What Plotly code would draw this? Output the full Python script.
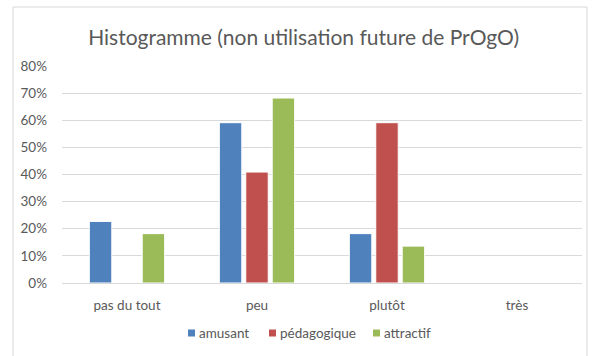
import plotly.graph_objects as go

# Response categories and share of answers per criterion
categories = ["pas du tout", "peu", "plutôt", "très"]
amusant = [0.227, 0.591, 0.182, 0.0]
pedagogique = [0.0, 0.409, 0.591, 0.0]
attractif = [0.182, 0.682, 0.136, 0.0]

series_names = ["amusant", "pédagogique", "attractif"]
series_values = [amusant, pedagogique, attractif]
series_colors = ["#4F81BD", "#C0504D", "#9BBB59"]

y_ticks = [0, 0.1, 0.2, 0.3, 0.4, 0.5, 0.6, 0.7, 0.8]

FONT = "Lato, Carlito, Calibri, sans-serif"
GREY = "#595959"
W, H = 593, 356
ML, MR, MT, MB = 62, 11, 66, 73
PW, PH = W - ML - MR, H - MT - MB


def px_x(px):
    return (px - ML) / PW


def px_y(py):
    return (H - MB - py) / PH


fig = go.Figure()
for name, vals, color in zip(series_names, series_values, series_colors):
    fig.add_trace(go.Bar(
        x=categories, y=vals, name=name,
        marker=dict(color=color, line=dict(color="white", width=1)),
        showlegend=False,
    ))

# Legend row below the axis: small square swatch followed by its label
legend_left = [188, 269, 373]   # swatch left edge in px
legend_y = 333
swatch = 7
shapes = [dict(
    type="rect", xref="paper", yref="paper",
    x0=px_x(13), x1=px_x(587), y0=px_y(H + 5), y1=px_y(7),
    line=dict(color="#D9D9D9", width=1), layer="below",
)]
annotations = []
for left, name, color in zip(legend_left, series_names, series_colors):
    shapes.append(dict(
        type="rect", xref="paper", yref="paper",
        x0=px_x(left), x1=px_x(left + swatch),
        y0=px_y(legend_y + swatch / 2), y1=px_y(legend_y - swatch / 2),
        fillcolor=color, line=dict(width=0),
    ))
    annotations.append(dict(
        text=name, xref="paper", yref="paper",
        x=px_x(left + swatch + 2), y=px_y(legend_y),
        xanchor="left", yanchor="middle", showarrow=False,
        font=dict(family=FONT, size=13.5, color=GREY),
    ))

fig.update_layout(
    width=W, height=H,
    margin=dict(l=ML, r=MR, t=MT, b=MB),
    paper_bgcolor="white", plot_bgcolor="white",
    barmode="group", bargap=0.39, bargroupgap=0.15,
    font=dict(family=FONT, color=GREY, size=13.5),
    showlegend=False,
    title=dict(
        text="Histogramme (non utilisation future de PrOgO)",
        x=0.512, xanchor="center", y=0.893, yanchor="middle",
        font=dict(family=FONT, size=21, color=GREY),
    ),
    xaxis=dict(
        showgrid=False, showline=False, ticks="",
        tickfont=dict(size=13.5, color=GREY), ticklabelstandoff=12,
    ),
    yaxis=dict(
        range=[0, 0.8], tickvals=y_ticks, tickformat=".0%",
        showgrid=True, gridcolor="#D9D9D9", gridwidth=1,
        zeroline=True, zerolinecolor="#D9D9D9", zerolinewidth=1,
        showline=False, ticks="",
        tickfont=dict(size=13.5, color=GREY), ticklabelstandoff=14,
    ),
    shapes=shapes,
    annotations=annotations,
)

fig.write_html("out.html")
